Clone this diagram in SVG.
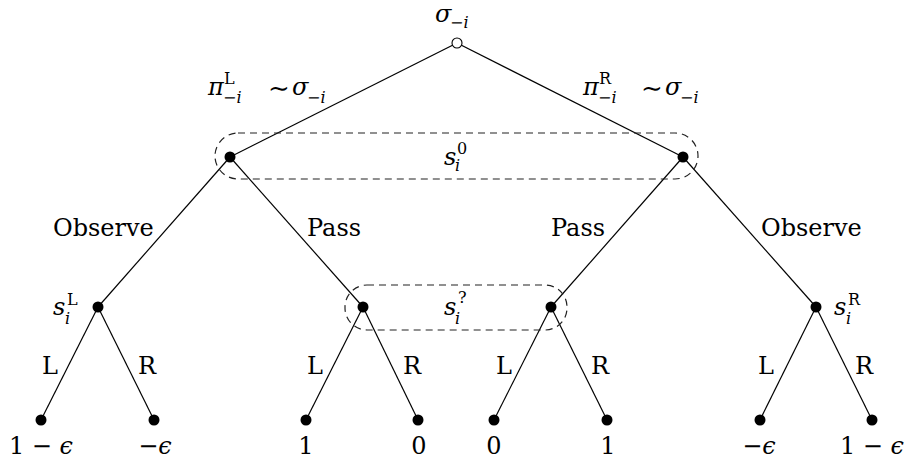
<svg xmlns="http://www.w3.org/2000/svg" width="906" height="463" viewBox="0 0 906 463">
<style>
text{font-family:"DejaVu Serif","Liberation Serif","Noto Serif",serif}
.t{font-size:24px}
.m{font-size:24px;font-style:italic}
.s{font-size:16px}
.si{font-size:16px;font-style:italic}
.lf{font-size:24px;text-anchor:middle}
.tl{font-size:26px}
.e{stroke:#000;stroke-width:1.2;fill:none}
.n{fill:#000}
.is{fill:none;stroke:#222;stroke-width:1.2;stroke-dasharray:7 5}
</style>
<rect width="906" height="463" fill="#fff"/>
<g fill="#000">
<g id="connectors">
<line class="e" x1="457" y1="43" x2="230" y2="157"/>
<line class="e" x1="457" y1="43" x2="683" y2="157"/>
<line class="e" x1="230" y1="157" x2="98" y2="307"/>
<line class="e" x1="230" y1="157" x2="363" y2="307"/>
<line class="e" x1="683" y1="157" x2="551" y2="307"/>
<line class="e" x1="683" y1="157" x2="816" y2="307"/>
<line class="e" x1="98" y1="307" x2="41" y2="420"/>
<line class="e" x1="98" y1="307" x2="154" y2="420"/>
<line class="e" x1="363" y1="307" x2="306" y2="420"/>
<line class="e" x1="363" y1="307" x2="418" y2="420"/>
<line class="e" x1="551" y1="307" x2="494" y2="420"/>
<line class="e" x1="551" y1="307" x2="607" y2="420"/>
<line class="e" x1="816" y1="307" x2="760" y2="420"/>
<line class="e" x1="816" y1="307" x2="872" y2="420"/>
<text class="m" x="208" y="95">π</text><text class="s" x="224" y="84">L</text><text class="s" x="223" y="103">−<tspan font-style="italic">i</tspan></text>
<text class="tl" x="268" y="97">∼</text>
<text class="m" x="292" y="95">σ</text><text class="s" x="307" y="103">−<tspan font-style="italic">i</tspan></text>
<text class="m" x="583" y="95">π</text><text class="s" x="599" y="84">R</text><text class="s" x="598" y="103">−<tspan font-style="italic">i</tspan></text>
<text class="tl" x="641" y="97">∼</text>
<text class="m" x="665" y="95">σ</text><text class="s" x="680" y="103">−<tspan font-style="italic">i</tspan></text>
<text class="t" x="53" y="236">Observe</text>
<text class="t" x="307" y="236">Pass</text>
<text class="t" x="551" y="236">Pass</text>
<text class="t" x="761" y="236">Observe</text>
<text class="t" x="42" y="374">L</text>
<text class="t" x="138" y="374">R</text>
<text class="t" x="307" y="374">L</text>
<text class="t" x="403" y="374">R</text>
<text class="t" x="496" y="374">L</text>
<text class="t" x="591" y="374">R</text>
<text class="t" x="758" y="374">L</text>
<text class="t" x="855" y="374">R</text>
</g>
<g id="infoset-s0">
<rect class="is" x="215" y="133" width="483" height="46" rx="23"/>
<text class="m" x="444" y="165">s</text><text class="s" x="457" y="154">0</text><text class="si" x="455" y="171">i</text>
</g>
<g id="infoset-sq">
<rect class="is" x="345" y="285" width="222" height="45" rx="22"/>
<text class="m" x="444" y="315">s</text><text class="s" x="458" y="303">?</text><text class="si" x="455" y="324">i</text>
</g>
<g id="root">
<circle cx="457" cy="43" r="5" fill="#fff" stroke="#000" stroke-width="1.1"/>
<text class="m" x="435" y="22">σ</text><text class="s" x="450" y="28">−<tspan font-style="italic">i</tspan></text>
</g>
<g id="nL"><circle class="n" cx="230" cy="157" r="5.5"/></g>
<g id="nR"><circle class="n" cx="683" cy="157" r="5.5"/></g>
<g id="nLO"><circle class="n" cx="98" cy="307" r="5.5"/>
<text class="m" x="53" y="315">s</text><text class="s" x="67" y="305">L</text><text class="si" x="65" y="324">i</text></g>
<g id="nLP"><circle class="n" cx="363" cy="307" r="5.5"/></g>
<g id="nRP"><circle class="n" cx="551" cy="307" r="5.5"/></g>
<g id="nRO"><circle class="n" cx="816" cy="307" r="5.5"/>
<text class="m" x="834" y="315">s</text><text class="s" x="848" y="305">R</text><text class="si" x="846" y="324">i</text></g>
<g id="leaf1"><circle class="n" cx="41" cy="420" r="5.5"/><text class="lf" x="41" y="454">1 − <tspan font-style="italic">ϵ</tspan></text></g>
<g id="leaf2"><circle class="n" cx="154" cy="420" r="5.5"/><text class="lf" x="155" y="454">−<tspan font-style="italic">ϵ</tspan></text></g>
<g id="leaf3"><circle class="n" cx="306" cy="420" r="5.5"/><text class="lf" x="306" y="454">1</text></g>
<g id="leaf4"><circle class="n" cx="418" cy="420" r="5.5"/><text class="lf" x="419" y="454">0</text></g>
<g id="leaf5"><circle class="n" cx="494" cy="420" r="5.5"/><text class="lf" x="494" y="454">0</text></g>
<g id="leaf6"><circle class="n" cx="607" cy="420" r="5.5"/><text class="lf" x="608" y="454">1</text></g>
<g id="leaf7"><circle class="n" cx="760" cy="420" r="5.5"/><text class="lf" x="759" y="454">−<tspan font-style="italic">ϵ</tspan></text></g>
<g id="leaf8"><circle class="n" cx="872" cy="420" r="5.5"/><text class="lf" x="872" y="454">1 − <tspan font-style="italic">ϵ</tspan></text></g>
</g>
</svg>
